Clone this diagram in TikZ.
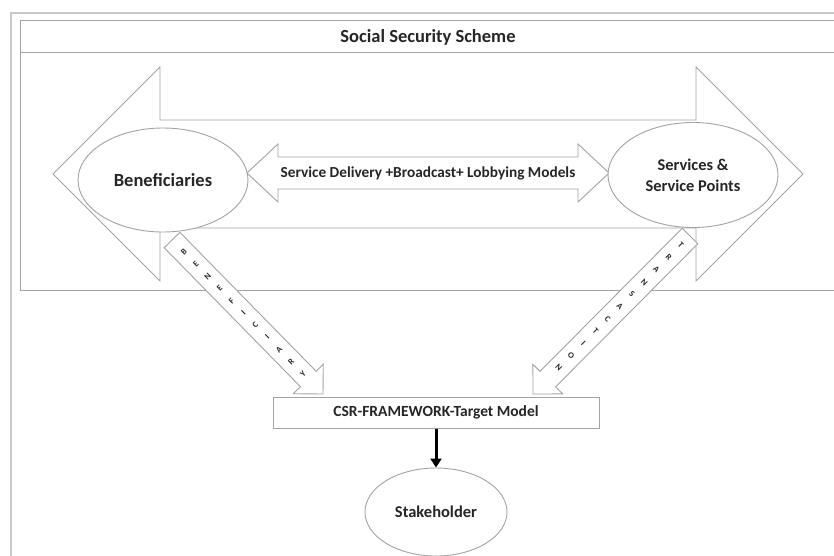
\documentclass[tikz,border=0pt]{standalone}
\usepackage{fontspec}
\setmainfont{Carlito}
\usetikzlibrary{calc,shapes.geometric,arrows.meta}

\definecolor{lineGray}{HTML}{A3A3A3}
\definecolor{frameGray}{HTML}{C4CAD0}
\definecolor{inkGray}{HTML}{262626}

% fat single arrow: tail, tip, shaft half width, head half width, head length
\newcommand{\fatarrow}[5]{%
    \coordinate (#1-b) at ($(#2)!#5!(#1)$);
    \draw[fatline] ($(#1)!#3!90:(#2)$) -- ($(#1-b)!#3!-90:(#1)$) -- ($(#1-b)!#4!-90:(#1)$)
        -- (#2) -- ($(#1-b)!#4!90:(#1)$) -- ($(#1-b)!#3!90:(#1)$) -- ($(#1)!#3!-90:(#2)$) -- cycle;
}
% fat double arrow: tip a, tip b, shaft half width, head half width, head length
\newcommand{\fatdouble}[5]{%
    \coordinate (#1-b) at ($(#1)!#5!(#2)$);
    \coordinate (#2-b) at ($(#2)!#5!(#1)$);
    \draw[fatline] (#1) -- ($(#1-b)!#4!90:(#2)$) -- ($(#1-b)!#3!90:(#2)$) -- ($(#2-b)!#3!-90:(#1)$)
        -- ($(#2-b)!#4!-90:(#1)$) -- (#2) -- ($(#2-b)!#4!90:(#1)$) -- ($(#2-b)!#3!90:(#1)$)
        -- ($(#1-b)!#3!-90:(#2)$) -- ($(#1-b)!#4!-90:(#2)$) -- cycle;
}

\begin{document}
\begin{tikzpicture}[
        x=1pt, y=-1pt,
        font=\bfseries, text=inkGray,
        frameline/.style={draw=frameGray, line width=1.6pt},
        boxline/.style={draw=lineGray, line width=1pt},
        fatline/.style={draw=lineGray, line width=0.9pt, fill=white, line join=miter},
        bubble/.style={ellipse, draw=lineGray, line width=0.9pt, fill=white, inner sep=0pt, align=center},
        csrbox/.style={rectangle, draw=lineGray, line width=1pt, fill=white, inner sep=0pt},
        arrowletter/.style={font=\bfseries\fontsize{8.5}{8.5}\selectfont, inner sep=0pt},
        downarrow/.style={-{Triangle[width=11pt,length=9pt]}, line width=3pt, black}
    ]
    \useasboundingbox (0,0) rectangle (834,555);
    \clip (0,0) rectangle (834,555);

    % frames
    \draw[frameline] (11,600) -- (11,13) -- (860,13);
    \draw[boxline] (20,20) rectangle (860,290);
    \draw[boxline] (20,52) -- (860,52);
    \node[font=\bfseries\fontsize{18.5}{18.5}\selectfont] (title) at (428,37) {Social Security Scheme};

    % big double arrow
    \coordinate (bigL) at (53,174);
    \coordinate (bigR) at (803,174);
    \fatdouble{bigL}{bigR}{54pt}{107pt}{107pt}

    % diagonal arrows
    \coordinate (benefTail) at (172,240);
    \coordinate (benefTip) at (323,394);
    \fatarrow{benefTail}{benefTip}{11pt}{21pt}{21pt}
    \coordinate (servTail) at (690,236);
    \coordinate (servTip) at (533,394);
    \fatarrow{servTail}{servTip}{11pt}{21pt}{21pt}

    % middle double arrow
    \coordinate (midL) at (247,173);
    \coordinate (midR) at (609,173);
    \fatdouble{midL}{midR}{16pt}{29pt}{31pt}
    \node[font=\bfseries\fontsize{15.3}{15.3}\selectfont] (models) at (428,173) {Service Delivery +Broadcast+ Lobbying Models};

    % ellipses
    \node[bubble, minimum width=170pt, minimum height=104pt, font=\bfseries\fontsize{18.5}{18.5}\selectfont] (benef) at (163,180) {Beneficiaries};
    \node[bubble, minimum width=170pt, minimum height=105pt, font=\bfseries\fontsize{16.4}{21}\selectfont] (serv) at (693,175) {Services \&\\Service Points};

    % letters in the diagonal arrows
    \foreach \ch [count=\i, evaluate=\i as \d using 17+17*(\i-1)] in {B,E,N,E,F,I,C,I,A,R,Y}
        \node[arrowletter, rotate=45] at ($(benefTail)!\d pt!(benefTip)$) {\ch};
    \foreach \ch [count=\i, evaluate=\i as \d using 13+17.3*(\i-1)] in {T,R,A,N,S,A,C,T,I,O,N}
        \node[arrowletter, rotate=-45] at ($(servTail)!\d pt!(servTip)$) {\ch};

    % target model and stakeholder
    \node[csrbox, minimum width=326pt, minimum height=31pt, font=\bfseries\fontsize{15.5}{15.5}\selectfont] (csr) at (436,412.5) {CSR-FRAMEWORK-Target Model};
    \node[bubble, minimum width=142pt, minimum height=88pt, font=\bfseries\fontsize{16.5}{16.5}\selectfont] (stake) at (436,512) {Stakeholder};
    \draw[downarrow] (csr) -- (stake);

\end{tikzpicture}
\end{document}
